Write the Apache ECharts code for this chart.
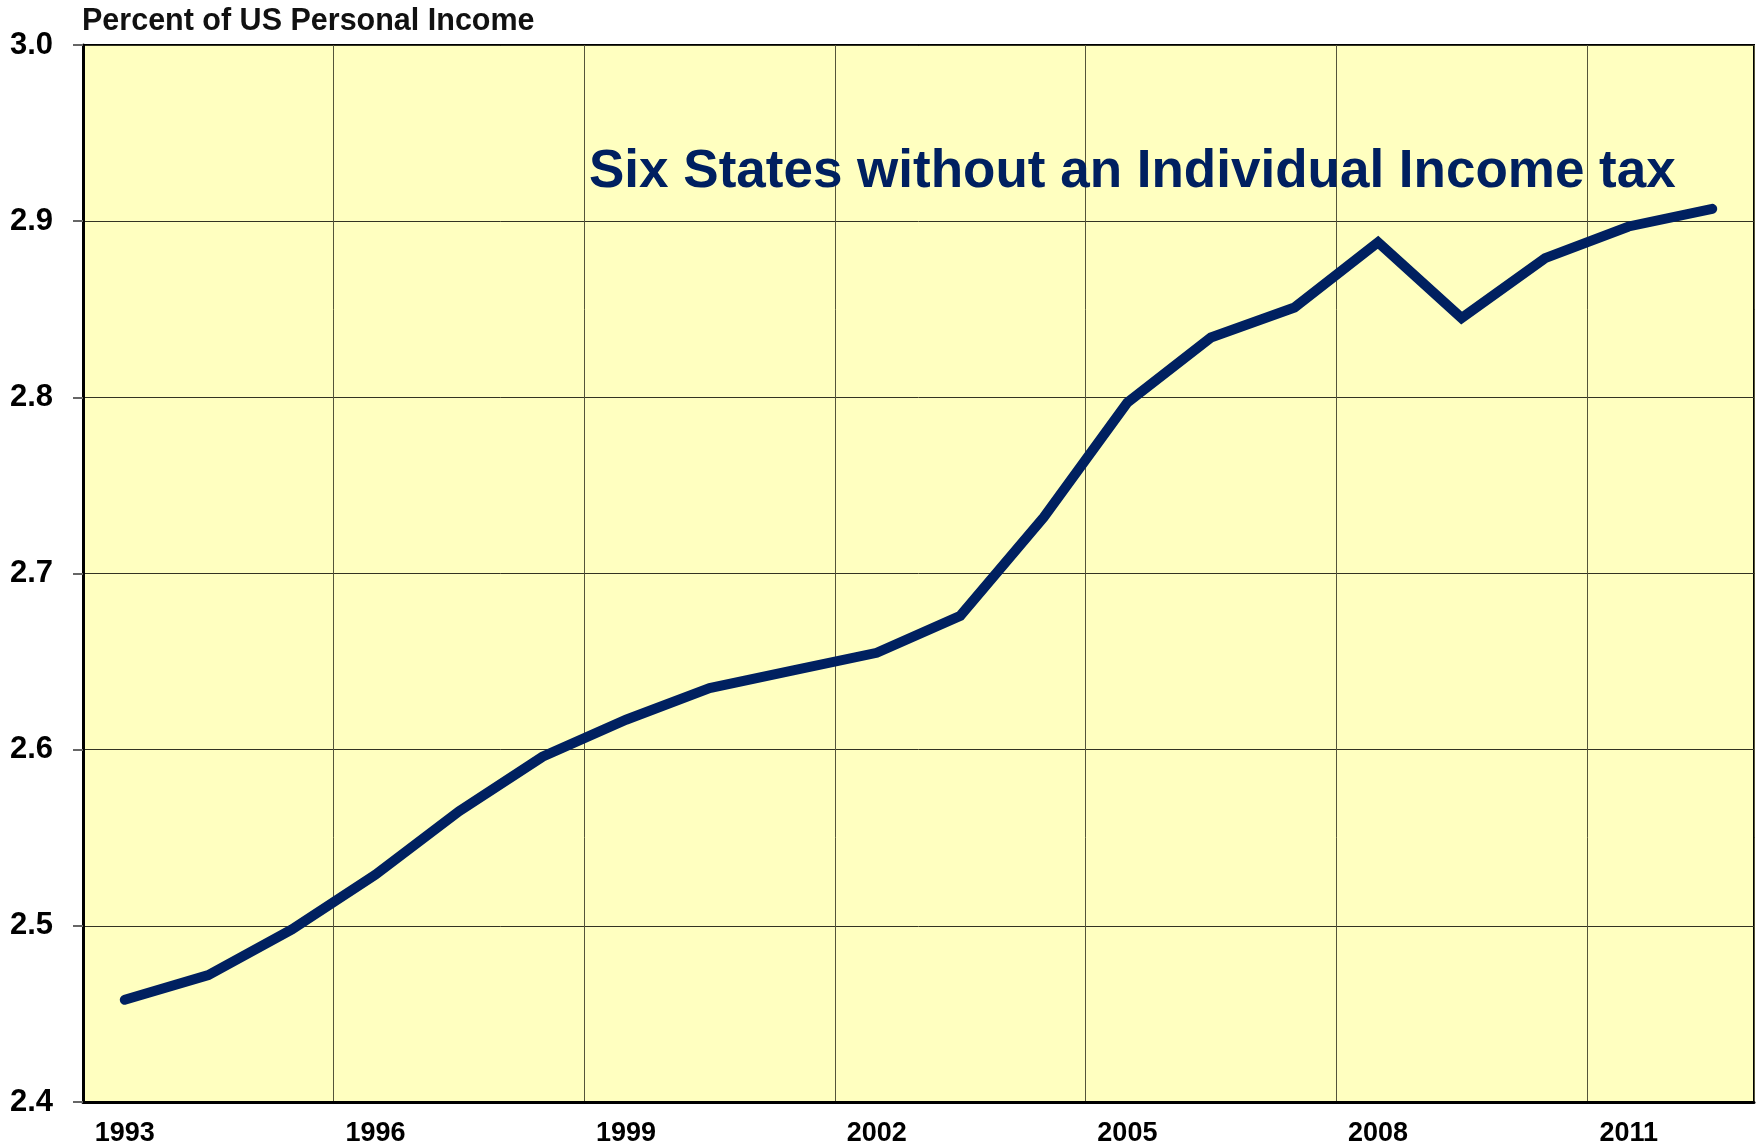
<!DOCTYPE html>
<html>
<head>
<meta charset="utf-8">
<title>Six States without an Individual Income tax</title>
<script src="https://cdn.jsdelivr.net/npm/echarts@6/dist/echarts.min.js"></script>
<style>
  html, body { margin: 0; padding: 0; background: #fff; }
  #chart { width: 1762px; height: 1147px; }
</style>
</head>
<body>
<div id="chart"></div>
<script>
// share of US personal income, six states with no individual income tax
var years = ['1993', '1994', '1995', '1996', '1997', '1998', '1999', '2000', '2001', '2002',
             '2003', '2004', '2005', '2006', '2007', '2008', '2009', '2010', '2011', '2012'];
var share = [2.458, 2.472, 2.498, 2.529, 2.565, 2.596, 2.617, 2.635, 2.645, 2.655,
             2.676, 2.732, 2.797, 2.834, 2.851, 2.888, 2.845, 2.879, 2.897, 2.907];
var yTicks = [2.4, 2.5, 2.6, 2.7, 2.8, 2.9, 3.0];

var myChart = echarts.init(document.getElementById('chart'));

var option = {
    animation: false,
    backgroundColor: '#ffffff',
    grid: {
        left: 83, right: 8, top: 45, bottom: 45,
        outerBoundsMode: 'none',
        show: true,
        backgroundColor: '#ffffc0',
        borderColor: '#000',
        borderWidth: 2
    },
    graphic: [
        {
            type: 'text', x: 82, y: 22,
            style: {
                text: 'Percent of US Personal Income',
                font: 'bold 30.5px "Liberation Sans", Arial, sans-serif',
                fill: '#111',
                textVerticalAlign: 'middle'
            }
        },
        {
            type: 'text', x: 589, y: 172,
            style: {
                text: 'Six States without an Individual Income tax',
                font: 'bold 53px "Liberation Sans", Arial, sans-serif',
                fill: '#002060',
                textVerticalAlign: 'middle'
            },
            z: 10
        }
    ],
    xAxis: {
        type: 'category',
        data: years,
        boundaryGap: true,
        axisLine: { lineStyle: { color: '#000', width: 3 } },
        axisTick: { show: false },
        axisLabel: {
            interval: 2,
            margin: 18,
            color: '#000',
            fontWeight: 'bold',
            fontSize: 27,
            fontFamily: '"Liberation Sans", Arial, sans-serif'
        },
        splitLine: {
            show: true,
            interval: 2,
            lineStyle: { color: '#55553a', width: 1 }
        }
    },
    yAxis: {
        type: 'value',
        min: yTicks[0],
        max: yTicks[yTicks.length - 1],
        interval: 0.1,
        axisLine: { show: true, lineStyle: { color: '#000', width: 3 } },
        axisTick: { show: true, length: 10, lineStyle: { color: '#666', width: 2 } },
        axisLabel: {
            margin: 30,
            color: '#000',
            fontWeight: 'bold',
            fontSize: 31,
            fontFamily: '"Liberation Sans", Arial, sans-serif',
            formatter: function (v) { return v.toFixed(1); }
        },
        splitLine: { show: true, lineStyle: { color: '#333322', width: 1 } }
    },
    series: [{
        type: 'line',
        data: share,
        symbol: 'none',
        lineStyle: { color: '#002060', width: 10, cap: 'round', join: 'miter' },
        z: 5
    }]
};

myChart.setOption(option);
</script>
</body>
</html>
